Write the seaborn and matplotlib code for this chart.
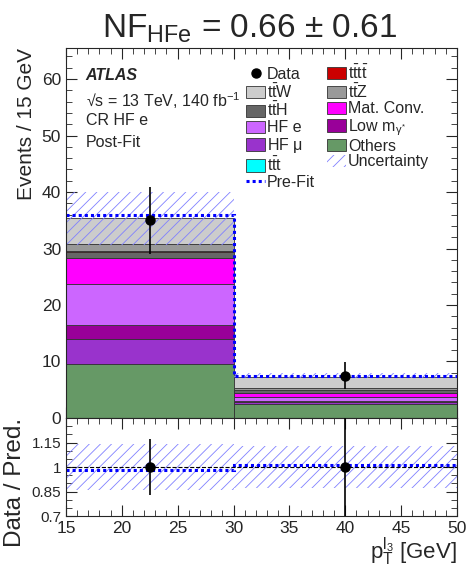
import numpy as np
import pandas as pd
import seaborn as sns
import matplotlib.pyplot as plt
from matplotlib.patches import Patch
from matplotlib.lines import Line2D
from matplotlib.ticker import MultipleLocator, FixedLocator

# binning (p_T of third lepton, GeV)
edges = [15, 30, 50]
centers = [22.5, 40]

# post-fit stack, events / 15 GeV, listed top to bottom
processes = ['ttW', 'ttZ', 'tttt', 'ttH', 'ttt', 'MatConv', 'HFe', 'LowM', 'HFmu', 'Others']
ttW = [4.6, 2.0]
ttZ = [1.4, 0.4]
tttt = [0.02, 0.01]
ttH = [1.1, 0.5]
ttt = [0.05, 0.02]
MatConv = [4.5, 0.6]
HFe = [7.3, 0.7]
LowM = [2.5, 0.2]
HFmu = [4.4, 0.3]
Others = [9.6, 2.55]

data = [35.0, 7.5]
data_err = [5.9, 2.35]
unc_lo = [30.7, 7.0]
unc_hi = [40.0, 8.0]
prefit = [36.0, 7.4]

ratio_data = [1.0, 1.0]
ratio_err = [0.17, 0.34]
ratio_lo = [0.86, 0.87]
ratio_hi = [1.14, 1.13]
ratio_prefit = [0.98, 1.01]

colors = {'ttW': '#cccccc', 'ttZ': '#999999', 'tttt': '#cc0000', 'ttH': '#666666',
          'ttt': '#00ffff', 'MatConv': '#ff00ff', 'HFe': '#cc66ff', 'LowM': '#990099',
          'HFmu': '#9933cc', 'Others': '#669966'}
labels = {'ttW': r'$t\bar{t}W$', 'ttZ': r'$t\bar{t}Z$', 'tttt': r'$t\bar{t}t\bar{t}$',
          'ttH': r'$t\bar{t}H$', 'ttt': r'$t\bar{t}t$', 'MatConv': 'Mat. Conv.',
          'HFe': 'HF e', 'LowM': r'Low m$_{\gamma^{*}}$', 'HFmu': r'HF $\mu$',
          'Others': 'Others'}

sns.set_style('ticks')
plt.rcParams['font.family'] = ['Liberation Sans', 'DejaVu Sans']
plt.rcParams['mathtext.fontset'] = 'custom'
plt.rcParams['mathtext.rm'] = 'Liberation Sans'
plt.rcParams['mathtext.it'] = 'Liberation Sans'
plt.rcParams['mathtext.bf'] = 'Liberation Sans:bold'
plt.rcParams['hatch.linewidth'] = 0.6

values = {'ttW': ttW, 'ttZ': ttZ, 'tttt': tttt, 'ttH': ttH, 'ttt': ttt, 'MatConv': MatConv,
          'HFe': HFe, 'LowM': LowM, 'HFmu': HFmu, 'Others': Others}
df = pd.DataFrame([{'pt': c, 'events': values[p][i], 'process': p}
                   for p in processes for i, c in enumerate(centers)])

fig = plt.figure(figsize=(4.67, 5.71), dpi=100)
ax = fig.add_axes([0.1413, 0.268, 0.837, 0.648])
rax = fig.add_axes([0.1413, 0.0963, 0.837, 0.1716], sharex=ax)

sns.histplot(data=df, x='pt', weights='events', hue='process', hue_order=processes,
             multiple='stack', bins=edges, palette=colors, alpha=1, edgecolor='#333333',
             linewidth=0.6, legend=False, ax=ax)

band = '#8080ff'
ax.fill_between(edges, unc_lo + [unc_lo[-1]], unc_hi + [unc_hi[-1]], step='post',
                facecolor='none', edgecolor=band, hatch='///', linewidth=0)
ax.stairs(prefit, edges, baseline=None, color='#0000ff', linestyle=(0, (1, 1)), linewidth=2.2)
ax.errorbar(centers, data, yerr=data_err, fmt='o', color='black', markersize=6.5,
            elinewidth=1.2, capsize=0, zorder=5)

ax.set_xlim(15, 50)
ax.set_ylim(0, 65.5)
ax.set_xlabel('')
ax.set_ylabel('Events / 15 GeV', fontsize=15, loc='top')
ax.yaxis.set_major_locator(MultipleLocator(10))
ax.yaxis.set_minor_locator(MultipleLocator(2))
ax.xaxis.set_major_locator(MultipleLocator(5))
ax.xaxis.set_minor_locator(MultipleLocator(1))
plt.setp(ax.get_xticklabels(), visible=False)

# ratio panel
rax.fill_between(edges, ratio_lo + [ratio_lo[-1]], ratio_hi + [ratio_hi[-1]], step='post',
                 facecolor='none', edgecolor=band, hatch='///', linewidth=0)
rax.axhline(1, color='black', linestyle='--', linewidth=0.8)
rax.stairs(ratio_prefit, edges, baseline=None, color='#0000ff', linestyle=(0, (1, 1)), linewidth=2.2)
rax.errorbar(centers, ratio_data, yerr=ratio_err, fmt='o', color='black', markersize=6.5,
             elinewidth=1.2, capsize=0, zorder=5)
rax.set_ylim(0.7, 1.3)
rax.yaxis.set_major_locator(FixedLocator([0.7, 0.85, 1.0, 1.15]))
rax.set_yticklabels(['0.7', '0.85', '1', '1.15'])
rax.yaxis.set_minor_locator(MultipleLocator(0.05))
rax.set_ylabel('Data / Pred.', fontsize=17.5, loc='top')
rax.set_xlabel(r'p$_{\mathrm{T}}^{\mathrm{l}_{3}}$ [GeV]', fontsize=16, loc='right', labelpad=0)

for a in (ax, rax):
    a.tick_params(which='both', direction='in', top=True, right=True)
    a.tick_params(which='major', length=8)
    a.tick_params(which='minor', length=4)
ax.tick_params(labelsize=12.5)
rax.tick_params(axis='x', labelsize=12.5)
rax.tick_params(axis='y', labelsize=11)
fig.align_ylabels([ax, rax])

# text block
ax.text(0.05, 0.945, 'ATLAS', transform=ax.transAxes, fontsize=11.5, fontweight='bold',
        fontstyle='italic', va='top')
ax.text(0.05, 0.885, '√s = 13 TeV, 140 fb$^{-1}$', transform=ax.transAxes, fontsize=11.5, va='top')
ax.text(0.05, 0.825, 'CR HF e', transform=ax.transAxes, fontsize=11.5, va='top')
ax.text(0.05, 0.765, 'Post-Fit', transform=ax.transAxes, fontsize=11.5, va='top')

def box(p):
    return Patch(facecolor=colors[p], edgecolor='#333333', linewidth=0.6, label=labels[p])

col1 = [Line2D([], [], marker='o', color='black', linestyle='none', markersize=6.5, label='Data'),
        box('ttW'), box('ttH'), box('HFe'), box('HFmu'), box('ttt'),
        Line2D([], [], color='#0000ff', linestyle=(0, (1, 1)), linewidth=2.2, label='Pre-Fit')]
col2 = [box('tttt'), box('ttZ'), box('MatConv'), box('LowM'), box('Others'),
        Patch(facecolor='none', edgecolor=band, hatch='///', linewidth=0, label='Uncertainty')]
ax.legend(handles=col1 + col2, ncol=2, loc='upper left', bbox_to_anchor=(0.445, 0.975),
          frameon=False, fontsize=11.5, handlelength=1.15, handleheight=0.8,
          handletextpad=0.15, labelspacing=0.05, columnspacing=0.75, borderaxespad=0)

fig.text(0.535, 0.935, r'NF$_{\mathrm{HFe}}$ = 0.66 ± 0.61', fontsize=24, ha='center', va='baseline')

fig.savefig('out.png', dpi=100)
